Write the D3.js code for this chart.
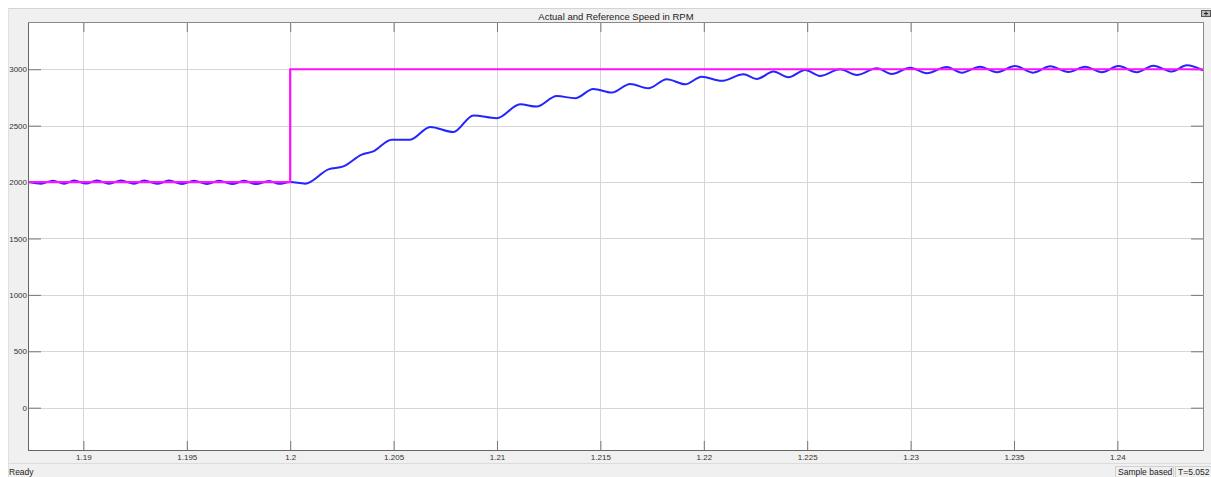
<!DOCTYPE html>
<html>
<head>
<meta charset="utf-8">
<script src="https://cdn.jsdelivr.net/npm/d3@7"></script>
<style>
html,body{margin:0;padding:0;background:#fff;}
svg{display:block;}
text{font-family:Arial,"Liberation Sans",sans-serif;}
</style>
</head>
<body>
<svg id="chart" width="1211" height="477"></svg>
<script>
// ---- data ----
const chartTitle = "Actual and Reference Speed in RPM";
const xTicks = [1.19, 1.195, 1.2, 1.205, 1.21, 1.215, 1.22, 1.225, 1.23, 1.235, 1.24];
const xTickLabels = ["1.19", "1.195", "1.2", "1.205", "1.21", "1.215", "1.22", "1.225", "1.23", "1.235", "1.24"];
const yTicks = [0, 500, 1000, 1500, 2000, 2500, 3000];
const yTickLabels = ["0", "500", "1000", "1500", "2000", "2500", "3000"];
const xDomain = [1.18737, 1.24414];
const yDomain = [-375, 3410];

// reference speed (step at t = 1.2)
const refTime  = [1.18737, 1.2, 1.2, 1.24414];
const refSpeed = [2000, 2000, 3000, 3000];

// actual speed: extrema/key points
const actTime = [
  1.18737, 1.18795, 1.18853, 1.18907, 1.18955, 1.19013, 1.19066, 1.19124, 1.19182,
  1.19245, 1.19294, 1.19356, 1.19414, 1.19477, 1.19535, 1.19598, 1.19656, 1.19719,
  1.19777, 1.19835, 1.19898, 1.19946, 1.20000, 1.20072, 1.20185, 1.20257, 1.20346,
  1.20402, 1.20491, 1.20580, 1.20677, 1.20789, 1.20886, 1.20999, 1.21112, 1.21192,
  1.21289, 1.21378, 1.21466, 1.21555, 1.21644, 1.21732, 1.21821, 1.21910, 1.21990,
  1.22086, 1.22192, 1.22256, 1.22337, 1.22409, 1.22490, 1.22562, 1.22659, 1.22740,
  1.22837, 1.22909, 1.22998, 1.23078, 1.23175, 1.23248, 1.23336, 1.23417, 1.23505,
  1.23594, 1.23675, 1.23763, 1.23844, 1.23925, 1.24005, 1.24094, 1.24174, 1.24263,
  1.24336, 1.24414
];
const actSpeed = [
  2001, 1986, 2012, 1986, 2013, 1987, 2014, 1986, 2013,
  1985, 2014, 1984, 2013, 1983, 2012, 1982, 2012, 1982,
  2011, 1982, 2010, 1984, 2000, 1986, 2113, 2139, 2243,
  2272, 2376, 2376, 2488, 2443, 2591, 2566, 2690, 2669,
  2763, 2743, 2825, 2793, 2870, 2831, 2911, 2867, 2934,
  2897, 2956, 2914, 2979, 2929, 2994, 2941, 3000, 2949,
  3009, 2958, 3014, 2965, 3020, 2970, 3023, 2973, 3029,
  2970, 3026, 2976, 3023, 2973, 3029, 2973, 3032, 2979,
  3035, 2991
];

// ---- layout ----
const W = 1211, H = 477;
const plot = {left: 29, top: 23, right: 1203, bottom: 450};
const svg = d3.select("#chart");

// figure background panel
svg.append("rect").attr("x", 8).attr("y", 8).attr("width", W - 8).attr("height", H - 8).attr("fill", "#f0f0f0");
svg.append("line").attr("x1", 8).attr("x2", W).attr("y1", 8.5).attr("y2", 8.5).attr("stroke", "#d4d4d4");
svg.append("line").attr("x1", 8.5).attr("x2", 8.5).attr("y1", 8).attr("y2", H).attr("stroke", "#e0e0e0");

// status bar
svg.append("line").attr("x1", 8).attr("x2", W).attr("y1", 463.5).attr("y2", 463.5).attr("stroke", "#dcdcdc");
svg.append("text").attr("x", 9).attr("y", 475).attr("font-size", 8.5).attr("fill", "#222").text("Ready");
svg.append("rect").attr("x", 1115.5).attr("y", 466.5).attr("width", 58).attr("height", 11).attr("fill", "#f0f0f0").attr("stroke", "#d0d0d0");
svg.append("text").attr("x", 1118).attr("y", 475).attr("font-size", 8.5).attr("fill", "#222").text("Sample based");
svg.append("rect").attr("x", 1175.5).attr("y", 466.5).attr("width", 36).attr("height", 11).attr("fill", "#f0f0f0").attr("stroke", "#d0d0d0");
svg.append("text").attr("x", 1178).attr("y", 475).attr("font-size", 8.5).attr("fill", "#222").text("T=5.052");

// title
svg.append("text").attr("x", (plot.left + plot.right) / 2).attr("y", 20)
  .attr("text-anchor", "middle").attr("font-size", 9.5).attr("fill", "#222").text(chartTitle);

// top-right icon
svg.append("rect").attr("x", 1201.5).attr("y", 10.5).attr("width", 9).attr("height", 6).attr("fill", "#bbb").attr("stroke", "#555");
svg.append("path").attr("d", "M1204,13.5H1208M1206,11.5V15.5").attr("stroke", "#222").attr("stroke-width", 1);

// scales
const x = d3.scaleLinear().domain(xDomain).range([plot.left, plot.right]);
const y = d3.scaleLinear().domain(yDomain).range([plot.bottom, plot.top]);

// plot area
svg.append("rect").attr("x", plot.left).attr("y", plot.top)
  .attr("width", plot.right - plot.left).attr("height", plot.bottom - plot.top).attr("fill", "#fff");

// grid
const grid = svg.append("g");
grid.selectAll("line.vx").data(xTicks).join("line")
  .attr("x1", d => Math.round(x(d)) + 0.5).attr("x2", d => Math.round(x(d)) + 0.5)
  .attr("y1", plot.top).attr("y2", plot.bottom).attr("stroke", "#d6d6d6").attr("stroke-width", 1);
grid.selectAll("line.hy").data(yTicks).join("line")
  .attr("y1", d => Math.round(y(d)) + 0.5).attr("y2", d => Math.round(y(d)) + 0.5)
  .attr("x1", plot.left).attr("x2", plot.right).attr("stroke", "#d6d6d6").attr("stroke-width", 1);

// axes with inward ticks
const fmtX = d => xTickLabels[xTicks.indexOf(d)];
const fmtY = d => yTickLabels[yTicks.indexOf(d)];
function styleAxis(g) {
  g.select(".domain").remove();
  g.selectAll(".tick line").attr("stroke", "#777");
  g.selectAll(".tick text").attr("fill", "#333").attr("font-size", 8).attr("font-family", "Arial, 'Liberation Sans', sans-serif");
}
svg.append("g").attr("transform", `translate(0,${plot.bottom})`)
  .call(d3.axisBottom(x).tickValues(xTicks).tickFormat(fmtX).tickSizeInner(-9).tickSizeOuter(0).tickPadding(4))
  .call(styleAxis);
svg.append("g").attr("transform", `translate(0,${plot.top})`)
  .call(d3.axisTop(x).tickValues(xTicks).tickFormat("").tickSizeInner(-9).tickSizeOuter(0))
  .call(styleAxis);
svg.append("g").attr("transform", `translate(${plot.left},0)`)
  .call(d3.axisLeft(y).tickValues(yTicks).tickFormat(fmtY).tickSizeInner(-12).tickSizeOuter(0).tickPadding(2))
  .call(styleAxis);
svg.append("g").attr("transform", `translate(${plot.right},0)`)
  .call(d3.axisRight(y).tickValues(yTicks).tickFormat("").tickSizeInner(-12).tickSizeOuter(0))
  .call(styleAxis);

// clip
svg.append("clipPath").attr("id", "clip").append("rect")
  .attr("x", plot.left).attr("y", plot.top).attr("width", plot.right - plot.left).attr("height", plot.bottom - plot.top);

// lines
const actData = actTime.map((t, i) => [t, actSpeed[i]]);
const refData = refTime.map((t, i) => [t, refSpeed[i]]);
const lineSmooth = d3.line().x(d => x(d[0])).y(d => y(d[1])).curve(d3.curveMonotoneX);
const lineStep = d3.line().x(d => x(d[0])).y(d => y(d[1]));

const lines = svg.append("g").attr("clip-path", "url(#clip)");
lines.append("path").datum(actData).attr("d", lineSmooth)
  .attr("fill", "none").attr("stroke", "#2424ff").attr("stroke-width", 2).attr("stroke-linejoin", "round");
lines.append("path").datum(refData).attr("d", lineStep)
  .attr("fill", "none").attr("stroke", "#ff10ff").attr("stroke-width", 2.2);

// plot border
svg.append("rect").attr("x", plot.left - 0.5).attr("y", plot.top - 0.5)
  .attr("width", plot.right - plot.left + 1).attr("height", plot.bottom - plot.top + 1)
  .attr("fill", "none").attr("stroke", "#8a8a8a").attr("stroke-width", 1);
svg.append("line").attr("x1", plot.left - 0.5).attr("x2", plot.left - 0.5).attr("y1", plot.top).attr("y2", plot.bottom + 0.5).attr("stroke", "#666");
svg.append("line").attr("x1", plot.left - 0.5).attr("x2", plot.right).attr("y1", plot.bottom + 0.5).attr("y2", plot.bottom + 0.5).attr("stroke", "#666");
</script>
</body>
</html>
